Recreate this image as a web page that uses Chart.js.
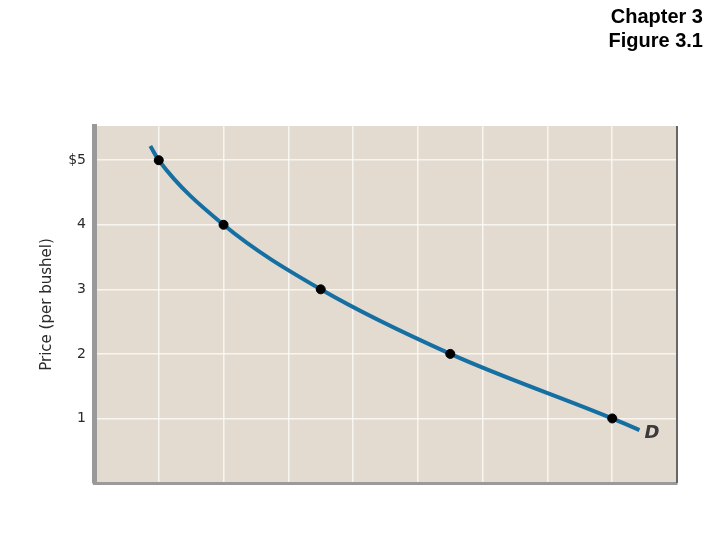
<!DOCTYPE html>
<html>
<head>
<meta charset="utf-8">
<script src="https://cdn.jsdelivr.net/npm/chart.js@4/dist/chart.umd.min.js"></script>
<style>
    body { margin: 0; background: #fff; }
    #wrap { position: relative; width: 720px; height: 540px; }
    #caption {
        position: absolute; right: 17px; top: 4px;
        font-family: "Liberation Sans", Arial, sans-serif;
        font-weight: bold; font-size: 20px; line-height: 24px;
        text-align: right; color: #000;
    }
</style>
</head>
<body>
<div id="wrap">
    <canvas id="demandChart" width="720" height="540"></canvas>
    <div id="caption">Chapter 3<br>Figure 3.1</div>
</div>
<script>
// Demand schedule points (quantity, price)
const quantities = [1, 2, 3.5, 5.5, 8];
const prices = [5, 4, 3, 2, 1];

// Curve runs a little past the first and last points
const curveQuantities = [0.87, 1, 2, 3.5, 5.5, 8, 8.42];
const curvePrices = [5.22, 5, 4, 3, 2, 1, 0.82];

const yTicks = [1, 2, 3, 4, 5];
const xTicks = [1, 2, 3, 4, 5, 6, 7, 8];

// Plot background + right border + "D" label
const plotDecor = {
    id: 'plotDecor',
    beforeDraw(chart) {
        const { ctx, chartArea: a } = chart;
        ctx.save();
        ctx.fillStyle = '#e4dbd0';
        ctx.fillRect(a.left, a.top, a.right - a.left, a.bottom - a.top);
        ctx.restore();
    },
    afterDraw(chart) {
        const { ctx, chartArea: a, scales } = chart;
        ctx.save();
        ctx.strokeStyle = '#666';
        ctx.lineWidth = 2;
        ctx.beginPath();
        ctx.moveTo(a.right, a.top);
        ctx.lineTo(a.right, a.bottom);
        ctx.stroke();

        ctx.fillStyle = '#3a3a3a';
        ctx.font = 'italic bold 18px "DejaVu Sans", sans-serif';
        ctx.textBaseline = 'middle';
        ctx.fillText('D', scales.x.getPixelForValue(8.5), scales.y.getPixelForValue(0.77));
        ctx.restore();
    }
};

new Chart(document.getElementById('demandChart'), {
    type: 'scatter',
    data: {
        datasets: [
            {
                label: 'Points',
                data: quantities.map((q, i) => ({ x: q, y: prices[i] })),
                backgroundColor: '#000',
                borderColor: '#000',
                pointRadius: 4.5,
                showLine: false
            },
            {
                label: 'Demand',
                data: curveQuantities.map((q, i) => ({ x: q, y: curvePrices[i] })),
                borderColor: '#156fa3',
                borderWidth: 4,
                pointRadius: 0,
                showLine: true,
                cubicInterpolationMode: 'monotone'
            }
        ]
    },
    options: {
        responsive: false,
        animation: false,
        layout: { padding: { top: 126, right: 43, left: 0, bottom: 0 } },
        plugins: {
            legend: { display: false },
            tooltip: { enabled: false }
        },
        scales: {
            x: {
                type: 'linear',
                min: 0,
                max: 9,
                afterFit: (scale) => { scale.height = 57; },
                afterBuildTicks: (scale) => { scale.ticks = xTicks.map(v => ({ value: v })); },
                ticks: { display: false },
                grid: { color: 'rgba(255,255,255,0.7)', lineWidth: 1.5, drawTicks: false },
                border: { color: '#9a9a9a', width: 3 }
            },
            y: {
                min: 0,
                max: 5.53,
                afterFit: (scale) => { scale.width = 94; },
                afterBuildTicks: (scale) => { scale.ticks = yTicks.map(v => ({ value: v })); },
                ticks: {
                    padding: 8,
                    color: '#2a2a2a',
                    font: { family: '"DejaVu Sans", sans-serif', size: 14 },
                    callback: (v) => v === 5 ? '$5' : String(v)
                },
                grid: { color: 'rgba(255,255,255,0.7)', lineWidth: 1.5, drawTicks: false },
                border: { color: '#999', width: 5 },
                title: {
                    display: true,
                    text: 'Price (per bushel)',
                    color: '#2a2a2a',
                    font: { family: '"DejaVu Sans", sans-serif', size: 15 },
                    padding: { top: 38, bottom: 0 }
                }
            }
        }
    },
    plugins: [plotDecor]
});
</script>
</body>
</html>
